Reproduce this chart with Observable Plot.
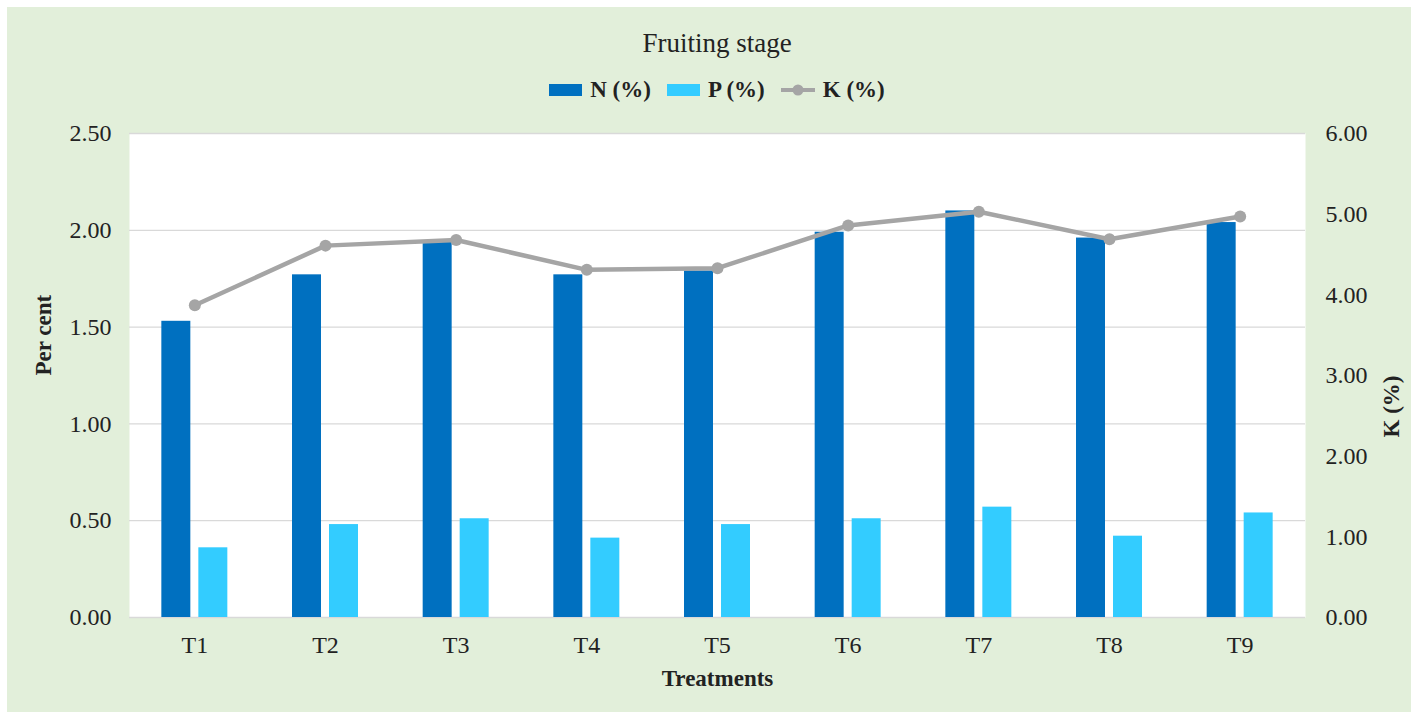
<!DOCTYPE html>
<html>
<head>
<meta charset="utf-8">
<script src="https://cdn.jsdelivr.net/npm/d3@7"></script>
<script src="https://cdn.jsdelivr.net/npm/@observablehq/plot@0.6"></script>
<style>
  html, body { margin: 0; padding: 0; background: #ffffff; }
  #panel { position: absolute; left: 7px; top: 7px; width: 1404px; height: 705px; background: #e2efda; font-family: "Liberation Serif", "Times New Roman", serif; }
  #title { position: absolute; left: 0; top: 21px; width: 1420px; text-align: center; font-size: 27px; color: #222; }
  #legend { position: absolute; top: 70px; left: 0; width: 1420px; display: flex; justify-content: center; gap: 16px; font-size: 23px; font-weight: bold; color: #222; }
  .item { display: flex; align-items: center; gap: 8px; }
  .sw { width: 33px; height: 12px; display: inline-block; }
  #chart { position: absolute; left: 0; top: 108px; }
</style>
</head>
<body>
<div id="panel">
  <div id="title">Fruiting stage</div>
  <div id="legend"></div>
  <div id="chart"></div>
</div>
<script>
const treatments = ["T1","T2","T3","T4","T5","T6","T7","T8","T9"];
const nValues = [1.53, 1.77, 1.94, 1.77, 1.79, 1.99, 2.10, 1.96, 2.04];
const pValues = [0.36, 0.48, 0.51, 0.41, 0.48, 0.51, 0.57, 0.42, 0.54];
const kValues = [3.87, 4.61, 4.68, 4.31, 4.33, 4.86, 5.03, 4.69, 4.97];
const leftTicks = [0, 0.5, 1.0, 1.5, 2.0, 2.5];
const rightTicks = [0, 1, 2, 3, 4, 5, 6];
const seriesNames = ["N (%)", "P (%)", "K (%)"];
const colors = ["#0070c0", "#33ccff", "#a5a5a5"];

const leftMax = 2.5, rightMax = 6;
const kScale = leftMax / rightMax;
const rows = treatments.map((t, i) => ({T: t, N: nValues[i], P: pValues[i], K: kValues[i]}));

// legend
const legend = document.getElementById("legend");
seriesNames.forEach((name, i) => {
  const item = document.createElement("div");
  item.className = "item";
  if (i < 2) {
    item.innerHTML = `<span class="sw" style="background:${colors[i]}"></span><span>${name}</span>`;
  } else {
    item.innerHTML = `<svg width="34" height="14"><line x1="0" y1="7" x2="34" y2="7" stroke="${colors[2]}" stroke-width="4"/><circle cx="17" cy="7" r="5.5" fill="${colors[2]}"/></svg><span>${name}</span>`;
  }
  legend.appendChild(item);
});

const chart = Plot.plot({
  width: 1404,
  height: 590,
  marginTop: 18,
  marginBottom: 88,
  marginLeft: 122,
  marginRight: 106,
  style: {fontFamily: "Liberation Serif, Times New Roman, serif", fontSize: "24px", background: "transparent", color: "#222"},
  x: {domain: treatments, paddingInner: 0.495, paddingOuter: 0.2475, round: false, label: null},
  y: {domain: [0, leftMax], label: null},
  marks: [
    Plot.frame({fill: "white", stroke: null}),
    Plot.gridY(leftTicks, {stroke: "#d9d9d9", strokeOpacity: 1, strokeWidth: 1.3}),
    Plot.barY(rows, {x: "T", y: "N", fill: colors[0], insetRight: 37, insetLeft: 0}),
    Plot.barY(rows, {x: "T", y: "P", fill: colors[1], insetLeft: 37, insetRight: 0}),
    Plot.line(rows, {x: "T", y: d => d.K * kScale, stroke: colors[2], strokeWidth: 4.5}),
    Plot.dot(rows, {x: "T", y: d => d.K * kScale, r: 6, fill: colors[2], stroke: null}),
    Plot.axisY(leftTicks, {anchor: "left", tickSize: 0, tickPadding: 18, tickFormat: d => d.toFixed(2), label: null}),
    Plot.axisY(rightTicks.map(k => k * kScale), {anchor: "right", tickSize: 0, tickPadding: 20, tickFormat: d => (d / kScale).toFixed(2), label: null}),
    Plot.axisX({tickSize: 0, tickPadding: 18, label: null}),
    Plot.text(["Per cent"], {frameAnchor: "left", rotate: -90, dx: -86, fontWeight: "bold", fontSize: 23}),
    Plot.text(["K (%)"], {frameAnchor: "right", rotate: -90, dx: 86, fontWeight: "bold", fontSize: 23}),
    Plot.text(["Treatments"], {frameAnchor: "bottom", dy: 68, fontWeight: "bold", fontSize: 23})
  ]
});
document.getElementById("chart").appendChild(chart);
</script>
</body>
</html>
